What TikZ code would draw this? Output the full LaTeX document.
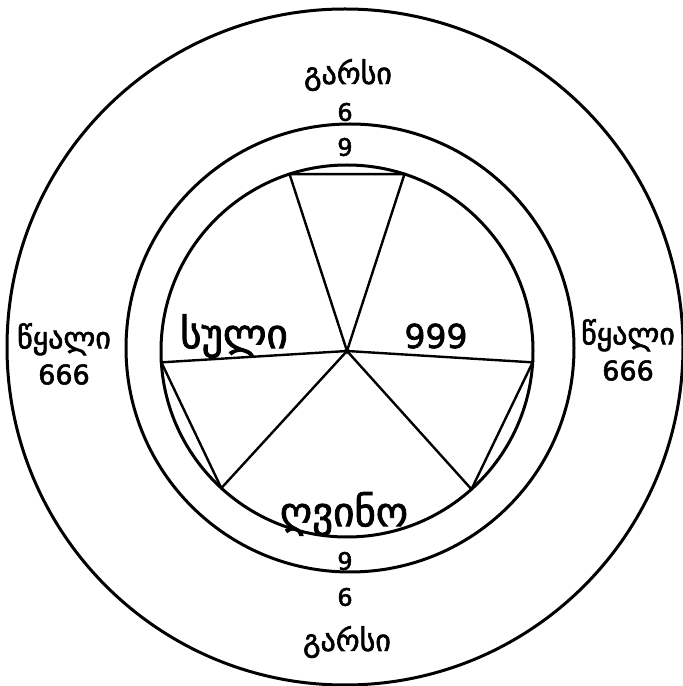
\documentclass[tikz,border=0pt]{standalone}
\usepackage{fontspec}
\setmainfont{DejaVu Sans}[FakeBold=2]
\usepackage{tikz}
\usetikzlibrary{positioning}

\begin{document}
\begin{tikzpicture}[
    x=0.5pt, y=0.5pt,
    ring/.style={line width=1.5pt},
    wedge/.style={line width=1.2pt, line join=miter},
    geo/.style={inner sep=0pt, align=center, font=\fontsize{15}{18}\selectfont},
    num/.style={inner sep=0pt, font=\fontsize{12}{14}\selectfont},
    big/.style={inner sep=0pt, font=\fontsize{20.5}{24}\selectfont}
]
\useasboundingbox (0,0) rectangle (682,686);

% circles
\draw[ring] (345,339) circle (338);
\draw[ring] (350,338) circle (224);
\coordinate (o) at (347,335);
\draw[ring] (o) circle (186);

% three wedges from the centre
\path (o) ++(72:186) coordinate (t1) (o) ++(108:186) coordinate (t2);
\path (o) ++(183.5:186) coordinate (l1) (o) ++(227.5:186) coordinate (l2);
\path (o) ++(312:186) coordinate (r1) (o) ++(356.5:186) coordinate (r2);
\draw[wedge] (o) -- (t1) -- (t2) -- cycle;
\draw[wedge] (o) -- (l1) -- (l2) -- cycle;
\draw[wedge] (o) -- (r1) -- (r2) -- cycle;

% labels
\node[geo] (shellTop) at (348,611) {გარსი};
\node[num] (sixTop) at (345,574) {6};
\node[num] (nineTop) at (345,539) {9};
\node[big] (soul) at (234,350) {სული};
\node[num, font=\fontsize{16.5}{20}\selectfont] (nines) at (436,350) {999};
\node[big] (wine) at (344,172) {ღვინო};
\node[num] (nineBot) at (345,125) {9};
\node[num] (sixBot) at (345,89) {6};
\node[geo] (shellBot) at (347,44) {გარსი};
\node[geo] (waterL) at (64,332) {წყალი\\\fontsize{13.5}{17}\selectfont 666};
\node[geo] (waterR) at (628,336) {წყალი\\\fontsize{13.5}{17}\selectfont 666};
\end{tikzpicture}
\end{document}
